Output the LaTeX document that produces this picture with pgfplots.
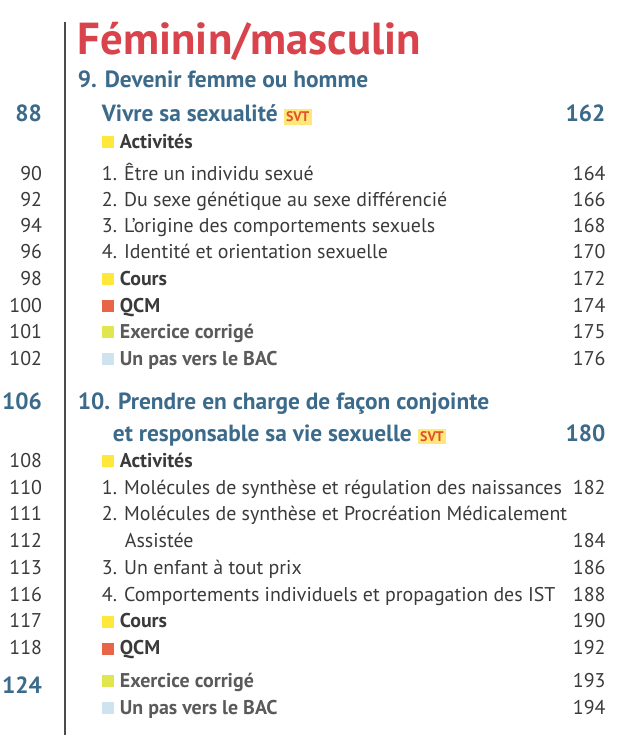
\documentclass[border=0pt]{standalone}
\usepackage{pgfplots}
\pgfplotsset{compat=1.18}
\usepackage{fontspec}
\setmainfont{PT Sans}
\definecolor{titlered}{HTML}{D8434C}
\definecolor{headblue}{HTML}{3C6A8A}
\definecolor{bodygray}{HTML}{3A3A3A}
\definecolor{lightgray}{HTML}{5A5A5A}
\definecolor{actyellow}{HTML}{FFE83A}
\definecolor{qcmred}{HTML}{E8654A}
\definecolor{exgreen}{HTML}{E2E64E}
\definecolor{bacblue}{HTML}{CFE3EF}
\definecolor{svtyellow}{HTML}{FFE77A}
\definecolor{svtred}{HTML}{E0502A}
\newcommand\body{\fontsize{20}{24}\selectfont}
\newcommand\head{\fontsize{23.5}{27}\selectfont\bfseries}
\newcommand\svt{{\setlength\fboxsep{2.5pt}\colorbox{svtyellow}{\fontsize{14}{15}\selectfont\bfseries\textcolor{svtred}{SVT}}}}
\begin{document}
\begin{tikzpicture}[every node/.style={inner sep=0pt, outer sep=0pt}]
\begin{axis}[scale only axis, width=620bp, height=736bp,
  xmin=0, xmax=620, ymin=0, ymax=736, y dir=reverse,
  hide axis, clip=false]
\addplot[draw=none] coordinates {(0,0) (620,736)};
\addplot[draw=black!70, line width=1.2bp] coordinates {(65,22) (65,736)};
% squares
\addplot[only marks, mark=square*, mark size=5.5bp, mark options={draw=actyellow, fill=actyellow}]
  coordinates {(108,142) (108,279) (108,461) (108,622)};
\addplot[only marks, mark=square*, mark size=5.5bp, mark options={draw=qcmred, fill=qcmred}]
  coordinates {(108,306) (108,649)};
\addplot[only marks, mark=square*, mark size=5.5bp, mark options={draw=exgreen, fill=exgreen}]
  coordinates {(108,332) (108,681)};
\addplot[only marks, mark=square*, mark size=5.5bp, mark options={draw=bacblue, fill=bacblue}]
  coordinates {(108,359) (108,708)};
% title
\node[anchor=base west, font=\fontsize{45}{50}\selectfont\bfseries, text=titlered] at (axis cs:78,55) {Féminin/masculin};
% chapter 9
\node[anchor=base west, font=\head, text=headblue] at (axis cs:78,88) {9. Devenir femme ou homme};
\node[anchor=base east, font=\head, text=headblue] at (axis cs:42,122) {88};
\node[anchor=base west, font=\head, text=headblue] at (axis cs:102,122) {Vivre sa sexualité \svt};
\node[anchor=base east, font=\head, text=headblue] at (axis cs:606,122) {162};
\node[anchor=base west, font=\body\bfseries, text=bodygray] at (axis cs:120,149) {Activités};
\node[anchor=base east, font=\body, text=bodygray] at (axis cs:42,181) {90};
\node[anchor=base west, font=\body, text=bodygray] at (axis cs:102,181) {1. Être un individu sexué};
\node[anchor=base east, font=\body, text=bodygray] at (axis cs:606,181) {164};
\node[anchor=base east, font=\body, text=bodygray] at (axis cs:42,207) {92};
\node[anchor=base west, font=\body, text=bodygray] at (axis cs:102,207) {2. Du sexe génétique au sexe différencié};
\node[anchor=base east, font=\body, text=bodygray] at (axis cs:606,207) {166};
\node[anchor=base east, font=\body, text=bodygray] at (axis cs:42,233) {94};
\node[anchor=base west, font=\body, text=bodygray] at (axis cs:102,233) {3. L’origine des comportements sexuels};
\node[anchor=base east, font=\body, text=bodygray] at (axis cs:606,233) {168};
\node[anchor=base east, font=\body, text=bodygray] at (axis cs:42,259) {96};
\node[anchor=base west, font=\body, text=bodygray] at (axis cs:102,259) {4. Identité et orientation sexuelle};
\node[anchor=base east, font=\body, text=bodygray] at (axis cs:606,259) {170};
\node[anchor=base east, font=\body, text=bodygray] at (axis cs:42,286) {98};
\node[anchor=base west, font=\body\bfseries, text=bodygray] at (axis cs:120,286) {Cours};
\node[anchor=base east, font=\body, text=bodygray] at (axis cs:606,286) {172};
\node[anchor=base east, font=\body, text=bodygray] at (axis cs:42,313) {100};
\node[anchor=base west, font=\body\bfseries, text=bodygray] at (axis cs:120,313) {QCM};
\node[anchor=base east, font=\body, text=bodygray] at (axis cs:606,313) {174};
\node[anchor=base east, font=\body, text=bodygray] at (axis cs:42,339) {101};
\node[anchor=base west, font=\body\bfseries, text=lightgray] at (axis cs:120,339) {Exercice corrigé};
\node[anchor=base east, font=\body, text=bodygray] at (axis cs:606,339) {175};
\node[anchor=base east, font=\body, text=bodygray] at (axis cs:42,366) {102};
\node[anchor=base west, font=\body\bfseries, text=lightgray] at (axis cs:120,366) {Un pas vers le BAC};
\node[anchor=base east, font=\body, text=bodygray] at (axis cs:606,366) {176};
% chapter 10
\node[anchor=base east, font=\head, text=headblue] at (axis cs:42,410) {106};
\node[anchor=base west, font=\head, text=headblue] at (axis cs:78,410) {10. Prendre en charge de façon conjointe};
\node[anchor=base west, font=\head, text=headblue] at (axis cs:113,442) {et responsable sa vie sexuelle \svt};
\node[anchor=base east, font=\head, text=headblue] at (axis cs:606,442) {180};
\node[anchor=base east, font=\body, text=bodygray] at (axis cs:42,468) {108};
\node[anchor=base west, font=\body\bfseries, text=bodygray] at (axis cs:120,468) {Activités};
\node[anchor=base east, font=\body, text=bodygray] at (axis cs:42,495) {110};
\node[anchor=base west, font=\body, text=bodygray] at (axis cs:102,495) {1. Molécules de synthèse et régulation des naissances};
\node[anchor=base east, font=\body, text=bodygray] at (axis cs:606,495) {182};
\node[anchor=base east, font=\body, text=bodygray] at (axis cs:42,521) {111};
\node[anchor=base west, font=\body, text=bodygray] at (axis cs:102,521) {2. Molécules de synthèse et Procréation Médicalement};
\node[anchor=base east, font=\body, text=bodygray] at (axis cs:42,548) {112};
\node[anchor=base west, font=\body, text=bodygray] at (axis cs:125,548) {Assistée};
\node[anchor=base east, font=\body, text=bodygray] at (axis cs:606,548) {184};
\node[anchor=base east, font=\body, text=bodygray] at (axis cs:42,575) {113};
\node[anchor=base west, font=\body, text=bodygray] at (axis cs:102,575) {3. Un enfant à tout prix};
\node[anchor=base east, font=\body, text=bodygray] at (axis cs:606,575) {186};
\node[anchor=base east, font=\body, text=bodygray] at (axis cs:42,602) {116};
\node[anchor=base west, font=\body, text=bodygray] at (axis cs:102,602) {4. Comportements individuels et propagation des IST};
\node[anchor=base east, font=\body, text=bodygray] at (axis cs:606,602) {188};
\node[anchor=base east, font=\body, text=bodygray] at (axis cs:42,628) {117};
\node[anchor=base west, font=\body\bfseries, text=bodygray] at (axis cs:120,628) {Cours};
\node[anchor=base east, font=\body, text=bodygray] at (axis cs:606,628) {190};
\node[anchor=base east, font=\body, text=bodygray] at (axis cs:42,655) {118};
\node[anchor=base west, font=\body\bfseries, text=bodygray] at (axis cs:120,655) {QCM};
\node[anchor=base east, font=\body, text=bodygray] at (axis cs:606,655) {192};
\node[anchor=base east, font=\head, text=headblue] at (axis cs:42,694) {124};
\node[anchor=base west, font=\body\bfseries, text=lightgray] at (axis cs:120,688) {Exercice corrigé};
\node[anchor=base east, font=\body, text=bodygray] at (axis cs:606,688) {193};
\node[anchor=base west, font=\body\bfseries, text=lightgray] at (axis cs:120,715) {Un pas vers le BAC};
\node[anchor=base east, font=\body, text=bodygray] at (axis cs:606,715) {194};
\end{axis}
\end{tikzpicture}
\end{document}
